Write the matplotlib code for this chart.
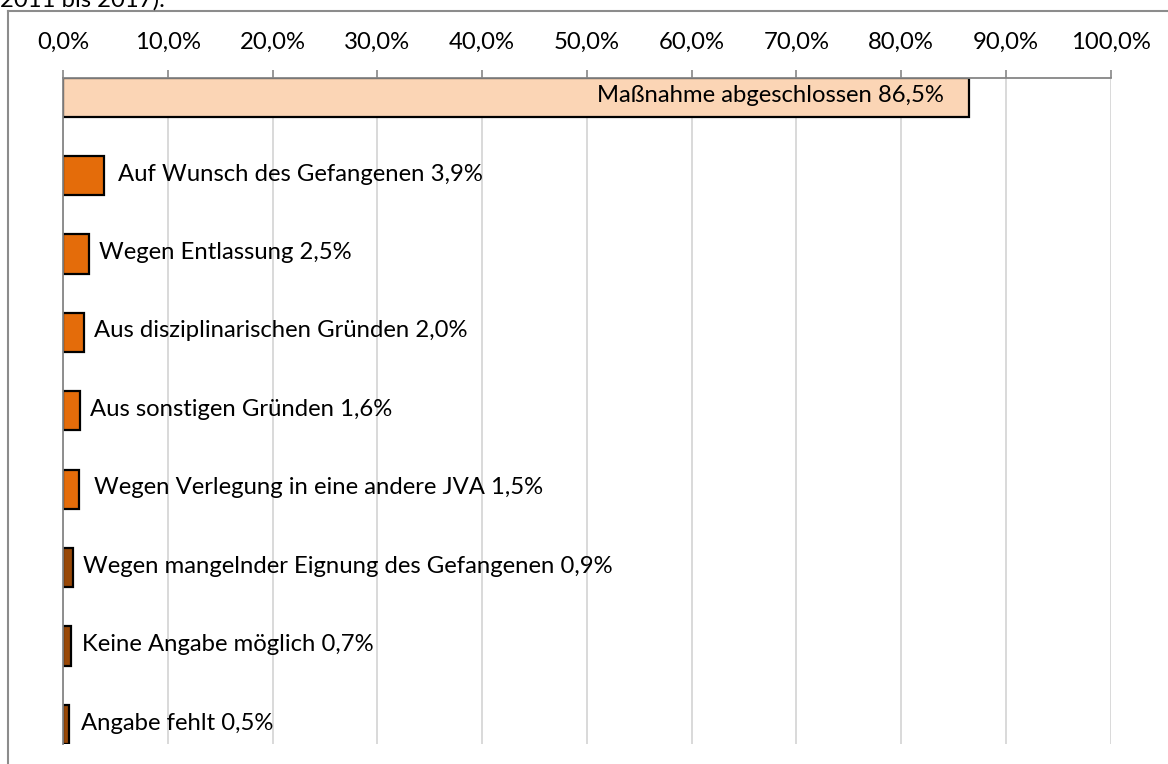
import matplotlib
matplotlib.use("Agg")
import matplotlib.pyplot as plt
from matplotlib.ticker import FuncFormatter

# ---- data ----
categories = [
    "Maßnahme abgeschlossen",
    "Auf Wunsch des Gefangenen",
    "Wegen Entlassung",
    "Aus disziplinarischen Gründen",
    "Aus sonstigen Gründen",
    "Wegen Verlegung in eine andere JVA",
    "Wegen mangelnder Eignung des Gefangenen",
    "Keine Angabe möglich",
    "Angabe fehlt",
]
values = [86.5, 3.9, 2.5, 2.0, 1.6, 1.5, 0.9, 0.7, 0.5]
xticks = [0, 10, 20, 30, 40, 50, 60, 70, 80, 90, 100]
header_text = "2011 bis 2017)."

# ---- style ----
colors = ["#FBD5B5"] + ["#E46C0A"] * 5 + ["#984807"] * 3
label_offsets_px = [None, 14, 10, 10, 10, 15, 10, 11, 12]

plt.rcParams['font.family'] = ['Lato', 'DejaVu Sans']
FS = 17.2

W, H = 1168, 764
fig = plt.figure(figsize=(W / 100, H / 100), dpi=100)

def fx(px):
    return px / W

def fy(py):
    return 1 - py / H

x0, x1 = 63.3, 1110.5
y0, y1 = 77.5, 744
ax = fig.add_axes([fx(x0), fy(y1), fx(x1) - fx(x0), fy(y0) - fy(y1)])

ypos = list(range(len(categories)))
ax.barh(ypos, values, height=0.5, color=colors, edgecolor="black",
        linewidth=1.6, zorder=3)
ax.set_ylim(len(categories) - 1 + 0.25, -0.25)
ax.set_xlim(0, 100)

ax.set_xticks(xticks)
ax.xaxis.set_major_formatter(FuncFormatter(lambda v, p: f"{v:.1f}%".replace(".", ",")))
ax.xaxis.tick_top()
ax.tick_params(axis="x", which="major", length=6, width=1.2, color="#868686",
               labelsize=FS, pad=12, labelcolor="black")
ax.tick_params(axis="y", left=False, labelleft=False)
ax.grid(axis="x", color="#D9D9D9", linewidth=1.4, zorder=0)
ax.set_axisbelow(True)

for s in ["right", "bottom"]:
    ax.spines[s].set_visible(False)
for s in ["top", "left"]:
    ax.spines[s].set_color("#868686")
    ax.spines[s].set_linewidth(1.3)
    ax.spines[s].set_zorder(4)

for i, (cat, v) in enumerate(zip(categories, values)):
    txt = f"{cat} {v:.1f}%".replace(".", ",")
    if i == 0:
        ax.annotate(txt, xy=(v, i), xytext=(-25 * 0.72, 1), textcoords="offset points",
                    ha="right", va="center", fontsize=FS, zorder=5)
    else:
        ax.annotate(txt, xy=(v, i), xytext=(label_offsets_px[i] * 0.72, 1),
                    textcoords="offset points",
                    ha="left", va="center", fontsize=FS, zorder=5)

# chart frame (partially visible)
frame_color = "#8C8C8C"
fig.add_artist(plt.Line2D([fx(7.5), fx(7.5)], [fy(11), 0], transform=fig.transFigure,
                          color=frame_color, linewidth=1.5))
fig.add_artist(plt.Line2D([fx(7.5), 1], [fy(11), fy(11)], transform=fig.transFigure,
                          color=frame_color, linewidth=1.5))

fig.text(fx(0), fy(7), header_text, fontsize=FS, ha="left", va="baseline")

fig.savefig("out.png", dpi=100)
